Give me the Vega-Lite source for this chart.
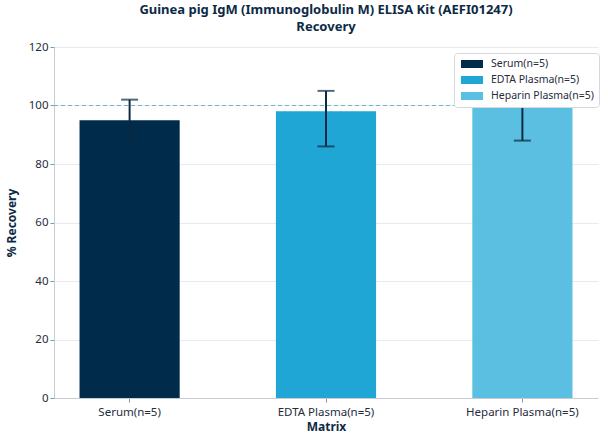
{
  "$schema": "https://vega.github.io/schema/vega-lite/v6.json",
  "width": 544,
  "height": 351,
  "autosize": "none",
  "padding": {"left": 54, "top": 47, "right": 10, "bottom": 46},
  "background": "white",
  "config": {
    "font": "Noto Sans",
    "view": {"stroke": null},
    "axis": {
      "labelColor": "#1f2d3d",
      "labelFontSize": 11.5,
      "titleColor": "#0d2a45",
      "titleFontSize": 12,
      "titleFontWeight": "bold",
      "domainColor": "#c5ccd3",
      "tickColor": "#8a949e",
      "tickSize": 4,
      "gridColor": "#e6e9ed"
    }
  },
  "title": {
    "text": ["Guinea pig IgM (Immunoglobulin M) ELISA Kit (AEFI01247)", "Recovery"],
    "fontSize": 13,
    "fontWeight": "bold",
    "color": "#0d2a45",
    "anchor": "middle",
    "offset": 7,
    "lineHeight": 17
  },
  "data": {
    "values": [
      {"matrix": "Serum(n=5)", "recovery": 95, "lower": 88, "upper": 102},
      {"matrix": "EDTA Plasma(n=5)", "recovery": 98, "lower": 86, "upper": 105},
      {"matrix": "Heparin Plasma(n=5)", "recovery": 100, "lower": 88, "upper": 112}
    ]
  },
  "encoding": {
    "x": {
      "field": "matrix",
      "type": "nominal",
      "sort": null,
      "title": "Matrix",
      "scale": {"paddingInner": 0.49, "paddingOuter": 0.13},
      "axis": {"labelAngle": 0, "labelPadding": 4, "titlePadding": 4}
    }
  },
  "layer": [
    {
      "mark": {"type": "bar"},
      "encoding": {
        "y": {
          "field": "recovery",
          "type": "quantitative",
          "title": "% Recovery",
          "scale": {"domain": [0, 120], "nice": false},
          "axis": {"values": [0, 20, 40, 60, 80, 100, 120], "grid": true, "titlePadding": 10}
        },
        "color": {
          "field": "matrix",
          "type": "nominal",
          "sort": null,
          "scale": {
            "domain": ["Serum(n=5)", "EDTA Plasma(n=5)", "Heparin Plasma(n=5)"],
            "range": ["#002b4b", "#1fa6d5", "#5bbfe1"]
          },
          "legend": {
            "title": null,
            "orient": "none",
            "legendX": 400,
            "legendY": 6,
            "fillColor": "white",
            "strokeColor": "#d5d9de",
            "cornerRadius": 3,
            "padding": 5,
            "labelFontSize": 10.5,
            "labelColor": "#1f2d3d",
            "symbolType": "M-2.2,-0.8H2.2V0.8H-2.2Z",
            "symbolSize": 100,
            "symbolOpacity": 1,
            "symbolOffset": 7,
            "rowPadding": 4,
            "labelOffset": 13
          }
        }
      }
    },
    {
      "mark": {"type": "rule", "color": "#0d2a45", "strokeWidth": 2},
      "encoding": {
        "y": {"field": "lower", "type": "quantitative"},
        "y2": {"field": "upper"}
      }
    },
    {
      "mark": {"type": "tick", "color": "#0d2a45", "thickness": 2, "size": 17, "orient": "horizontal"},
      "encoding": {"y": {"field": "upper", "type": "quantitative"}}
    },
    {
      "mark": {"type": "tick", "color": "#0d2a45", "thickness": 2, "size": 17, "orient": "horizontal"},
      "encoding": {"y": {"field": "lower", "type": "quantitative"}}
    },
    {
      "mark": {"type": "rule", "color": "#6cb9ca", "strokeWidth": 1, "strokeDash": [4, 3]},
      "encoding": {"y": {"datum": 100}, "x": {"value": 0}, "x2": {"value": 544}}
    }
  ]
}
